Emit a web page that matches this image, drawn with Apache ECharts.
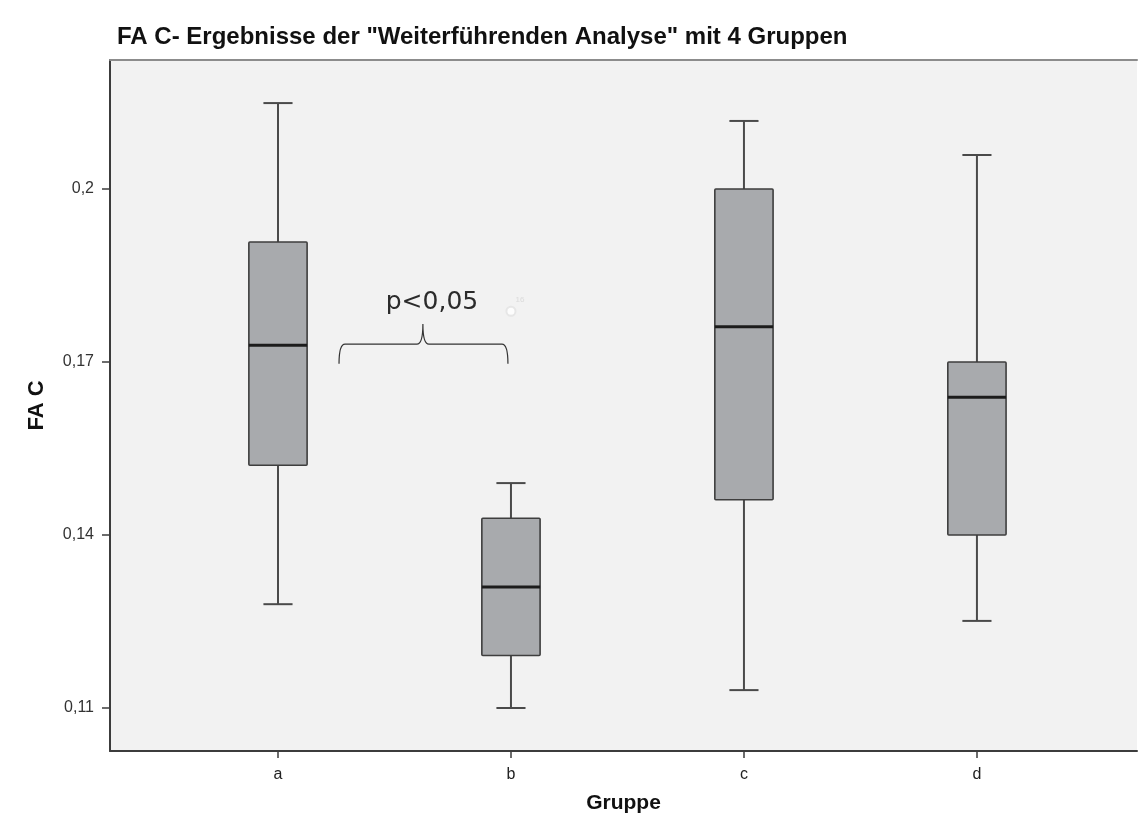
<!DOCTYPE html>
<html>
<head>
<meta charset="utf-8">
<script src="https://cdn.jsdelivr.net/npm/echarts@6/dist/echarts.min.js"></script>
<style>
  html, body { margin: 0; padding: 0; background: #fff; }
  #chart { width: 1140px; height: 819px; }
</style>
</head>
<body>
<div id="chart"></div>
<script>
  // Gruppen und Kennwerte der Boxplots (FA C)
  const groups = ['a', 'b', 'c', 'd'];
  const whiskerLow = [0.1280, 0.1100, 0.1131, 0.1251];
  const quartile1 = [0.1521, 0.1191, 0.1461, 0.1400];
  const medians = [0.1729, 0.1310, 0.1761, 0.1639];
  const quartile3 = [0.1908, 0.1429, 0.2000, 0.1700];
  const whiskerHigh = [0.2149, 0.1490, 0.2118, 0.2059];
  const yTicks = [0.11, 0.14, 0.17, 0.2];
  // blasser Ausreißer (Fall 16) bei Gruppe b
  const outliers = [[1, 0.1788, '16']];
  // Klammer a–b: x links, x rechts, x Spitze, y unten, y Balken, y Spitze, Text-x, Text-y
  const braceAnchor = [[0.262, 0.987, 0.622, 0.1697, 0.1731, 0.1766, 0.661, 0.1804]];
  const braceLabel = 'p<0,05';

  const boxData = groups.map((g, i) => [i, whiskerLow[i], quartile1[i], medians[i], quartile3[i], whiskerHigh[i]]);

  const chart = echarts.init(document.getElementById('chart'));

  function renderBox(params, api) {
    const x = api.value(0);
    const low = api.coord([x, api.value(1)]);
    const q1 = api.coord([x, api.value(2)]);
    const med = api.coord([x, api.value(3)]);
    const q3 = api.coord([x, api.value(4)]);
    const high = api.coord([x, api.value(5)]);
    const w = api.size([0.25, 0])[0];
    const cap = w / 2;
    const cx = med[0];
    const stem = { stroke: '#4a4a4a', lineWidth: 2 };
    return {
      type: 'group',
      children: [
        { type: 'line', shape: { x1: cx, y1: high[1], x2: cx, y2: q3[1] }, style: stem },
        { type: 'line', shape: { x1: cx, y1: q1[1], x2: cx, y2: low[1] }, style: stem },
        { type: 'line', shape: { x1: cx - cap / 2, y1: high[1], x2: cx + cap / 2, y2: high[1] }, style: stem },
        { type: 'line', shape: { x1: cx - cap / 2, y1: low[1], x2: cx + cap / 2, y2: low[1] }, style: stem },
        {
          type: 'rect',
          shape: { x: cx - w / 2, y: q3[1], width: w, height: q1[1] - q3[1], r: 1 },
          style: { fill: '#a8aaad', stroke: '#3e3e3e', lineWidth: 1.6 }
        },
        { type: 'line', shape: { x1: cx - w / 2, y1: med[1], x2: cx + w / 2, y2: med[1] }, style: { stroke: '#1c1c1c', lineWidth: 3 } }
      ]
    };
  }

  function renderBrace(params, api) {
    const l = api.coord([api.value(0), api.value(3)]);
    const r = api.coord([api.value(1), api.value(3)]);
    const bl = api.coord([api.value(0), api.value(4)]);
    const br = api.coord([api.value(1), api.value(4)]);
    const pk = api.coord([api.value(2), api.value(5)]);
    const tp = api.coord([api.value(6), api.value(7)]);
    const c = 6;
    const path = [
      'M', l[0], l[1],
      'Q', bl[0], bl[1], bl[0] + c, bl[1],
      'L', pk[0] - c, bl[1],
      'Q', pk[0], bl[1], pk[0], pk[1],
      'Q', pk[0], bl[1], pk[0] + c, bl[1],
      'L', br[0] - c, br[1],
      'Q', br[0], br[1], r[0], r[1]
    ].join(' ');
    return {
      type: 'group',
      children: [
        { type: 'path', shape: { pathData: path }, style: { fill: 'none', stroke: '#333', lineWidth: 1.2 } },
        {
          type: 'text',
          x: tp[0],
          y: tp[1],
          style: {
            text: braceLabel,
            font: '25px "DejaVu Sans", sans-serif',
            fill: '#2b2b2b',
            align: 'center',
            verticalAlign: 'middle'
          }
        }
      ]
    };
  }

  const xMin = -0.721, xMax = 3.687;
  const font = 'Liberation Sans, Arial, sans-serif';

  chart.setOption({
    backgroundColor: '#ffffff',
    animation: false,
    title: {
      text: 'FA C- Ergebnisse der "Weiterführenden Analyse" mit 4 Gruppen',
      left: 112,
      top: 20,
      textStyle: { fontFamily: font, fontWeight: 'bold', fontSize: 24, color: '#111' }
    },
    grid: {
      left: 110,
      right: 3,
      top: 60,
      bottom: 68,
      outerBoundsMode: 'none',
      containLabel: false,
      show: true,
      backgroundColor: '#f2f2f2',
      borderWidth: 0
    },
    xAxis: [{
      type: 'value',
      min: xMin,
      max: xMax,
      name: 'Gruppe',
      nameLocation: 'middle',
      nameGap: 42,
      nameTextStyle: { fontFamily: font, fontWeight: 'bold', fontSize: 21, color: '#111' },
      splitLine: { show: false },
      axisLine: { show: true, onZero: false, lineStyle: { color: '#3c3c3c', width: 2 } },
      axisTick: { show: true, customValues: [0, 1, 2, 3], length: 7, lineStyle: { color: '#3c3c3c', width: 1.5 } },
      axisLabel: {
        customValues: [0, 1, 2, 3],
        formatter: v => groups[Math.round(v)],
        margin: 16,
        fontFamily: font,
        fontSize: 16,
        color: '#222'
      }
    }, {
      type: 'value',
      position: 'top',
      min: xMin,
      max: xMax,
      splitLine: { show: false },
      axisLine: { show: true, onZero: false, lineStyle: { color: '#8c8c8c', width: 2 } },
      axisTick: { show: false },
      axisLabel: { show: false }
    }],
    yAxis: {
      type: 'value',
      min: 0.10254,
      max: 0.22237,
      name: 'FA C',
      nameLocation: 'middle',
      nameGap: 62,
      nameTextStyle: { fontFamily: font, fontWeight: 'bold', fontSize: 22, color: '#111' },
      splitLine: { show: false },
      axisLine: { show: true, onZero: false, lineStyle: { color: '#3c3c3c', width: 2 } },
      axisTick: { show: true, customValues: yTicks, length: 8, lineStyle: { color: '#3c3c3c', width: 1.5 } },
      axisLabel: {
        customValues: yTicks,
        formatter: v => String(+v.toFixed(2)).replace('.', ','),
        margin: 16,
        fontFamily: font,
        fontSize: 16,
        color: '#333'
      }
    },
    series: [{
      type: 'custom',
      name: 'FA C',
      renderItem: renderBox,
      encode: { x: 0, y: [1, 2, 3, 4, 5] },
      data: boxData,
      z: 3
    }, {
      type: 'scatter',
      data: outliers,
      symbol: 'emptyCircle',
      symbolSize: 9,
      itemStyle: { color: '#e2e2e2', borderColor: '#e2e2e2' },
      label: {
        show: true,
        formatter: p => p.data[2],
        position: [10, -10],
        fontSize: 8,
        color: '#d4d4d4'
      },
      z: 2
    }, {
      type: 'custom',
      name: 'Signifikanz',
      renderItem: renderBrace,
      encode: { x: [0, 1, 2, 6], y: [3, 4, 5, 7] },
      data: braceAnchor,
      silent: true,
      z: 4
    }]
  });
</script>
</body>
</html>
